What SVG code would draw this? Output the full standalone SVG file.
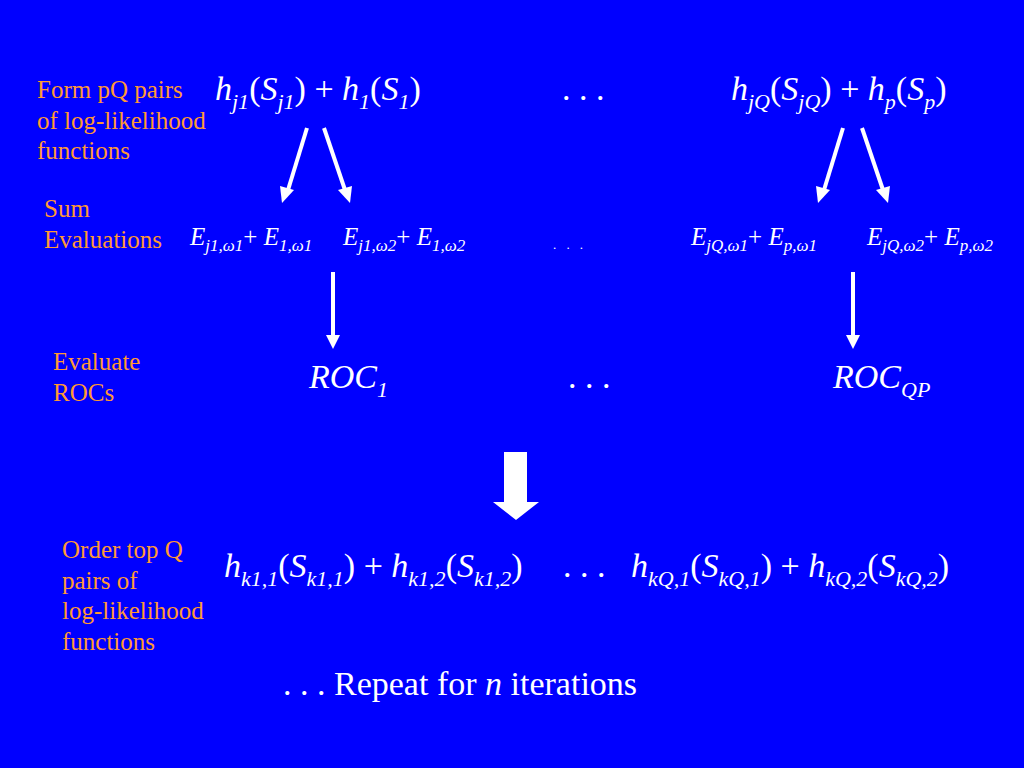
<svg xmlns="http://www.w3.org/2000/svg" width="1024" height="768" viewBox="0 0 1024 768">
<defs>
<style>
.lbl{font-family:"Liberation Serif","Times New Roman",serif;font-size:25px;fill:#FF9933}
.m{font-family:"Liberation Serif","Times New Roman",serif;font-size:34px;fill:#fff}
.e{font-family:"Liberation Serif","Times New Roman",serif;font-size:25px;fill:#fff}
.i{font-style:italic}
.s{font-size:22px;font-style:italic}
.es{font-size:17px;font-style:italic}
.arr{stroke:#fff;stroke-width:4;fill:none}
.head{fill:#fff}
</style>
</defs>
<rect width="1024" height="768" fill="#0000FF"/>

<g id="labels">
<text class="lbl" x="37" y="98">Form pQ pairs</text>
<text class="lbl" x="37" y="129">of log-likelihood</text>
<text class="lbl" x="37" y="159">functions</text>
<text class="lbl" x="44" y="217">Sum</text>
<text class="lbl" x="44" y="248">Evaluations</text>
<text class="lbl" x="53" y="370">Evaluate</text>
<text class="lbl" x="53" y="401">ROCs</text>
<text class="lbl" x="62" y="558">Order top Q</text>
<text class="lbl" x="62" y="589">pairs of</text>
<text class="lbl" x="62" y="619">log-likelihood</text>
<text class="lbl" x="62" y="650">functions</text>
</g>

<g id="pair1">
<text class="m" x="215" y="100"><tspan class="i">h</tspan><tspan class="s" dy="9">j1</tspan><tspan dy="-9">(</tspan><tspan class="i">S</tspan><tspan class="s" dy="9">j1</tspan><tspan dy="-9">) + </tspan><tspan class="i">h</tspan><tspan class="s" dy="9">1</tspan><tspan dy="-9">(</tspan><tspan class="i">S</tspan><tspan class="s" dy="9">1</tspan><tspan dy="-9">)</tspan></text>
</g>
<g id="dots1"><text class="m" x="562" y="100">. . .</text></g>
<g id="pairQ">
<text class="m" x="731" y="100"><tspan class="i">h</tspan><tspan class="s" dy="9">jQ</tspan><tspan dy="-9">(</tspan><tspan class="i">S</tspan><tspan class="s" dy="9">jQ</tspan><tspan dy="-9">) + </tspan><tspan class="i">h</tspan><tspan class="s" dy="9">p</tspan><tspan dy="-9">(</tspan><tspan class="i">S</tspan><tspan class="s" dy="9">p</tspan><tspan dy="-9">)</tspan></text>
</g>

<g id="eval1a">
<text class="e" x="190" y="245"><tspan class="i">E</tspan><tspan class="es" dy="6">j1,ω1</tspan><tspan dy="-6">+ </tspan><tspan class="i">E</tspan><tspan class="es" dy="6">1,ω1</tspan></text>
</g>
<g id="eval1b">
<text class="e" x="343" y="245"><tspan class="i">E</tspan><tspan class="es" dy="6">j1,ω2</tspan><tspan dy="-6">+ </tspan><tspan class="i">E</tspan><tspan class="es" dy="6">1,ω2</tspan></text>
</g>
<g id="dots2"><text class="e" style="font-size:13px" x="553" y="249" textLength="30">. . .</text></g>
<g id="evalQa">
<text class="e" x="691" y="245"><tspan class="i">E</tspan><tspan class="es" dy="6">jQ,ω1</tspan><tspan dy="-6">+ </tspan><tspan class="i">E</tspan><tspan class="es" dy="6">p,ω1</tspan></text>
</g>
<g id="evalQb">
<text class="e" x="867" y="245"><tspan class="i">E</tspan><tspan class="es" dy="6">jQ,ω2</tspan><tspan dy="-6">+ </tspan><tspan class="i">E</tspan><tspan class="es" dy="6">p,ω2</tspan></text>
</g>

<g id="roc1"><text class="m" x="309" y="388"><tspan class="i">ROC</tspan><tspan class="s" dy="9">1</tspan></text></g>
<g id="dots3"><text class="m" x="568" y="388">. . .</text></g>
<g id="rocQP"><text class="m" x="833" y="388"><tspan class="i">ROC</tspan><tspan class="s" dy="9">QP</tspan></text></g>

<g id="bigArrow">
<polygon points="504,452 527,452 527,502 539,502 516,520 493,502 504,502" fill="#fff"/>
</g>

<g id="top1">
<text class="m" x="224" y="577"><tspan class="i">h</tspan><tspan class="s" dy="9">k1,1</tspan><tspan dy="-9">(</tspan><tspan class="i">S</tspan><tspan class="s" dy="9">k1,1</tspan><tspan dy="-9">) + </tspan><tspan class="i">h</tspan><tspan class="s" dy="9">k1,2</tspan><tspan dy="-9">(</tspan><tspan class="i">S</tspan><tspan class="s" dy="9">k1,2</tspan><tspan dy="-9">)</tspan></text>
</g>
<g id="dots4"><text class="m" x="563" y="577">. . .</text></g>
<g id="topQ">
<text class="m" x="631" y="577"><tspan class="i">h</tspan><tspan class="s" dy="9">kQ,1</tspan><tspan dy="-9">(</tspan><tspan class="i">S</tspan><tspan class="s" dy="9">kQ,1</tspan><tspan dy="-9">) + </tspan><tspan class="i">h</tspan><tspan class="s" dy="9">kQ,2</tspan><tspan dy="-9">(</tspan><tspan class="i">S</tspan><tspan class="s" dy="9">kQ,2</tspan><tspan dy="-9">)</tspan></text>
</g>

<g id="repeat"><text class="m" x="283" y="695">. . . Repeat for <tspan class="i">n</tspan> iterations</text></g>

<g id="connectors">
<line class="arr" x1="307" y1="128" x2="288" y2="190"/>
<polygon class="head" points="282,203 280,186 294,190"/>
<line class="arr" x1="324" y1="128" x2="345" y2="190"/>
<polygon class="head" points="350,203 338,190 352,186"/>
<line class="arr" x1="843" y1="128" x2="824" y2="190"/>
<polygon class="head" points="818,203 816,186 830,190"/>
<line class="arr" x1="862" y1="128" x2="883" y2="190"/>
<polygon class="head" points="888,203 876,190 890,186"/>
<line class="arr" x1="333" y1="272" x2="333" y2="337"/>
<polygon class="head" points="333,349 326,335 340,335"/>
<line class="arr" x1="853" y1="272" x2="853" y2="337"/>
<polygon class="head" points="853,349 846,335 860,335"/>
</g>
</svg>
